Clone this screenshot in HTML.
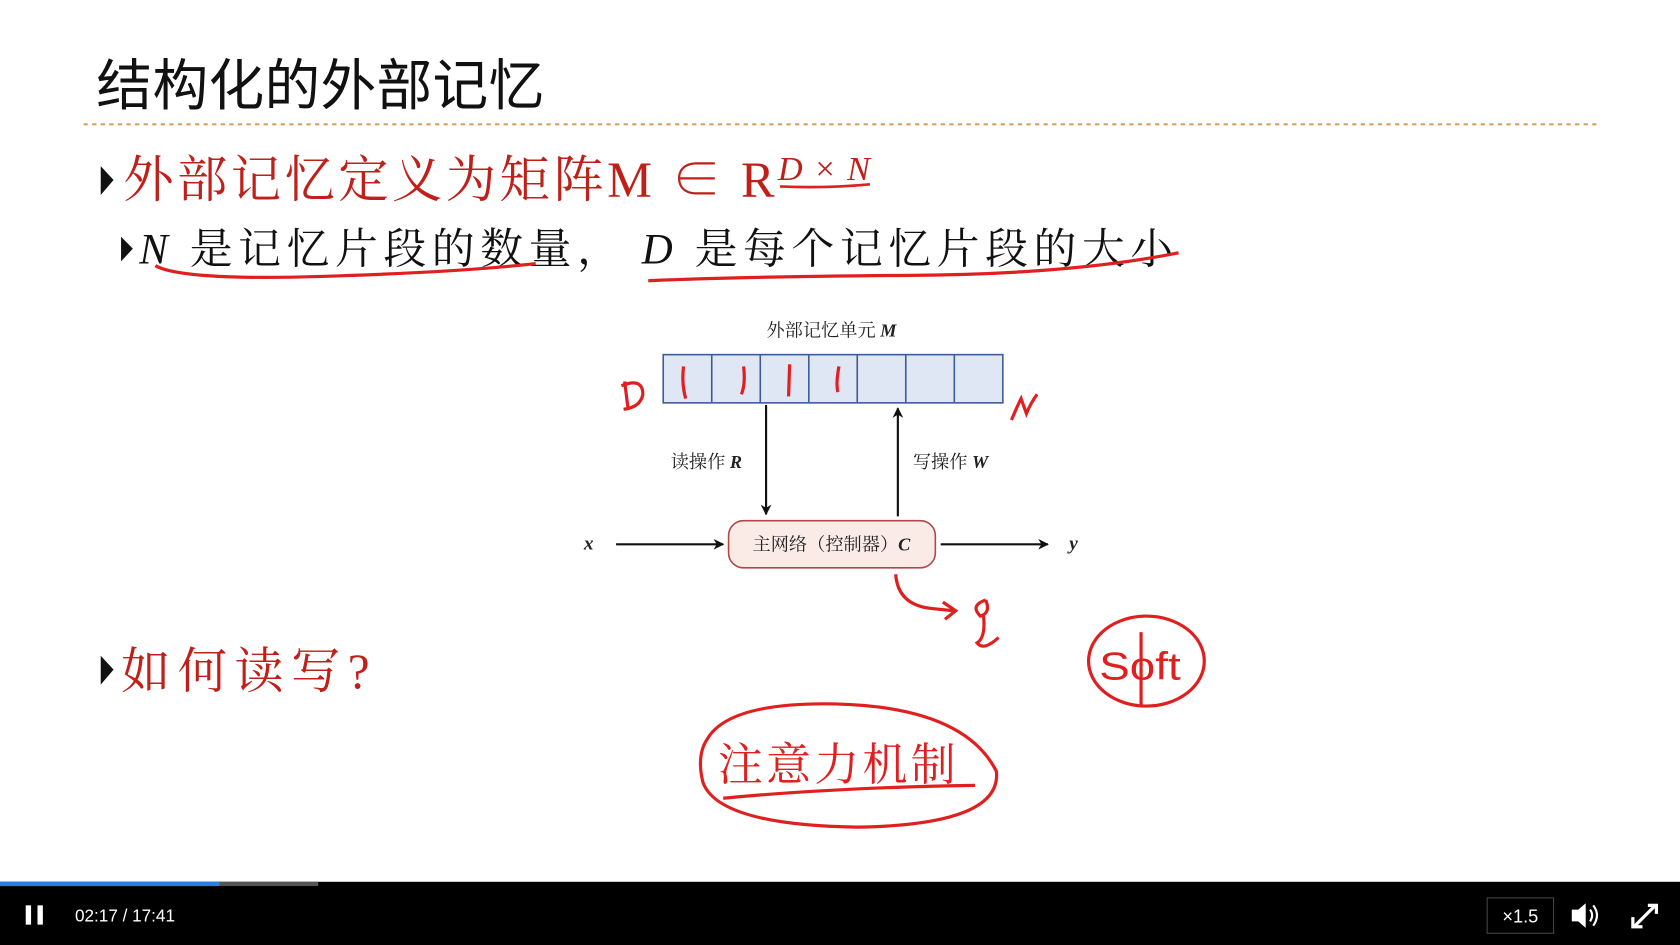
<!DOCTYPE html>
<html><head><meta charset="utf-8"><style>
html,body{margin:0;padding:0;background:#fff;}
svg{display:block;}
</style></head><body>
<svg width="1680" height="945" viewBox="0 0 1568 882" xmlns="http://www.w3.org/2000/svg" preserveAspectRatio="none">
<defs>
<marker id="ah" markerWidth="10" markerHeight="10" refX="9" refY="5" orient="auto" markerUnits="userSpaceOnUse"><path d="M0,0 L10,5 L0,10 L3,5 z" fill="#111"/></marker>
</defs>
<rect width="1568" height="882" fill="#fff"/>
<text x="90" y="98" font-family="'Liberation Sans','Noto Sans CJK SC',sans-serif" font-size="52" fill="#111" textLength="418" lengthAdjust="spacing">结构化的外部记忆</text>
<line x1="78" y1="116" x2="1490" y2="116" stroke="#d9a060" stroke-width="2" stroke-dasharray="4,4"/>
<path d="M94,155 L106,168 L94,182 z" fill="#111"/>
<text x="115" y="184" font-family="'Liberation Serif','Noto Serif CJK SC',serif" font-size="47" fill="#c0201a" textLength="608" lengthAdjust="spacing">外部记忆定义为矩阵M ∈ R</text>
<text x="726" y="168" font-family="'Liberation Serif',serif" font-size="32" font-style="italic" fill="#c0201a" textLength="86" lengthAdjust="spacing">D×N</text>
<path d="M728,174 Q770,176 812,172" stroke="#e02020" stroke-width="2.5" fill="none"/>
<path d="M113,221 L124,232 L113,244 z" fill="#111"/>
<text x="130" y="246" font-family="'Liberation Serif','Noto Serif CJK SC',serif" font-size="40" fill="#111" textLength="965" lengthAdjust="spacing"><tspan font-style="italic">N</tspan> 是记忆片段的数量， <tspan font-style="italic">D</tspan> 是每个记忆片段的大小</text>
<path d="M145,248 Q170,262 300,258 T500,246" stroke="#e02020" stroke-width="3" fill="none"/>
<path d="M605,262 Q700,258 850,257 T1100,236" stroke="#e02020" stroke-width="3" fill="none"/>
<text x="776" y="314" text-anchor="middle" font-family="'Liberation Serif','Noto Serif CJK SC',serif" font-size="17" fill="#222">外部记忆单元 <tspan font-style="italic" font-weight="bold">M</tspan></text>
<rect x="619" y="331" width="317" height="45" fill="#dfe6f4" stroke="#3d5c9c" stroke-width="1.5"/>
<g stroke="#3d5c9c" stroke-width="1.5">
<line x1="664.3" y1="331" x2="664.3" y2="376"/><line x1="709.6" y1="331" x2="709.6" y2="376"/><line x1="754.9" y1="331" x2="754.9" y2="376"/><line x1="800.1" y1="331" x2="800.1" y2="376"/><line x1="845.4" y1="331" x2="845.4" y2="376"/><line x1="890.7" y1="331" x2="890.7" y2="376"/>
</g>
<g stroke="#e02020" stroke-width="3" fill="none">
<path d="M638,342 Q636,358 640,372"/><path d="M694,342 Q696,358 692,368"/><path d="M737,340 L736,370"/><path d="M783,342 Q780,358 782,366"/>
<path d="M583,356 L586,380 M580,360 Q600,352 600,368 Q598,380 582,382"/>
<path d="M944,392 Q950,378 953,372 L958,386 Q962,376 968,368"/>
<path d="M836,536 Q838,565 870,568 L890,570 M880,562 L892,570 L882,578"/>
<path d="M920,560 Q905,565 915,575 Q925,572 920,560 M918,575 Q920,595 912,600 Q918,608 932,595"/>
<ellipse cx="1070" cy="617" rx="54" ry="42"/>
<path d="M1065,590 L1065,660"/>
<path d="M660,690 Q680,655 780,657 Q900,660 930,720 Q935,770 800,772 Q670,770 656,730 Q650,705 660,690"/>
<path d="M675,745 Q780,735 910,733"/>
</g>
<text x="1026" y="634" font-family="'Liberation Sans',sans-serif" font-size="36" fill="#e02020" textLength="76" lengthAdjust="spacingAndGlyphs">Soft</text>
<text x="670" y="728" font-family="'Liberation Serif','Noto Serif CJK SC',serif" font-size="42" fill="#e02020" textLength="222" lengthAdjust="spacing">注意力机制</text>
<line x1="715" y1="378" x2="715" y2="480" stroke="#111" stroke-width="2" marker-end="url(#ah)"/>
<line x1="838" y1="482" x2="838" y2="381" stroke="#111" stroke-width="2" marker-end="url(#ah)"/>
<text x="626" y="437" font-family="'Liberation Serif','Noto Serif CJK SC',serif" font-size="17" fill="#222">读操作 <tspan font-style="italic" font-weight="bold">R</tspan></text>
<text x="852" y="437" font-family="'Liberation Serif','Noto Serif CJK SC',serif" font-size="17" fill="#222">写操作 <tspan font-style="italic" font-weight="bold">W</tspan></text>
<rect x="680" y="486" width="193" height="44" rx="14" fill="#fbebe7" stroke="#b04848" stroke-width="1.5"/>
<text x="776" y="514" text-anchor="middle" font-family="'Liberation Serif','Noto Serif CJK SC',serif" font-size="17" fill="#222">主网络（控制器）<tspan font-style="italic" font-weight="bold">C</tspan></text>
<text x="545" y="513" font-family="'Liberation Serif',serif" font-size="18" font-style="italic" font-weight="bold" fill="#222">x</text>
<line x1="575" y1="508" x2="675" y2="508" stroke="#111" stroke-width="2" marker-end="url(#ah)"/>
<line x1="878" y1="508" x2="978" y2="508" stroke="#111" stroke-width="2" marker-end="url(#ah)"/>
<text x="998" y="513" font-family="'Liberation Serif',serif" font-size="18" font-style="italic" font-weight="bold" fill="#222">y</text>
<path d="M94,612 L106,625 L94,639 z" fill="#111"/>
<text x="113" y="642" font-family="'Liberation Serif','Noto Serif CJK SC',serif" font-size="46" fill="#c0201a" textLength="232" lengthAdjust="spacing">如何读写?</text>
<rect x="0" y="823" width="1568" height="59" fill="#000"/>
<rect x="0" y="823" width="297" height="4" fill="#555"/>
<rect x="0" y="823" width="205" height="4" fill="#2a7de1"/>
<rect x="24" y="845" width="5" height="18" fill="#fff"/><rect x="35" y="845" width="5" height="18" fill="#fff"/>
<text x="70" y="860" font-family="'Liberation Sans',sans-serif" font-size="16" fill="#fff">02:17 / 17:41</text>
<rect x="1388" y="838" width="62" height="33" fill="none" stroke="#444" stroke-width="1"/>
<text x="1419" y="861" text-anchor="middle" font-family="'Liberation Sans',sans-serif" font-size="17" fill="#fff">×1.5</text>
<path d="M1467,849 L1473,849 L1480,843 L1480,866 L1473,860 L1467,860 z" fill="#fff"/>
<path d="M1484,849 Q1488,854 1484,860 M1487,845 Q1494,854 1487,864" stroke="#fff" stroke-width="2" fill="none"/>
<path d="M1526,864 L1544,846 M1538,845 L1546,845 L1546,853 M1524,856 L1524,865 L1533,865" stroke="#fff" stroke-width="3" fill="none"/>
</svg>
</body></html>
